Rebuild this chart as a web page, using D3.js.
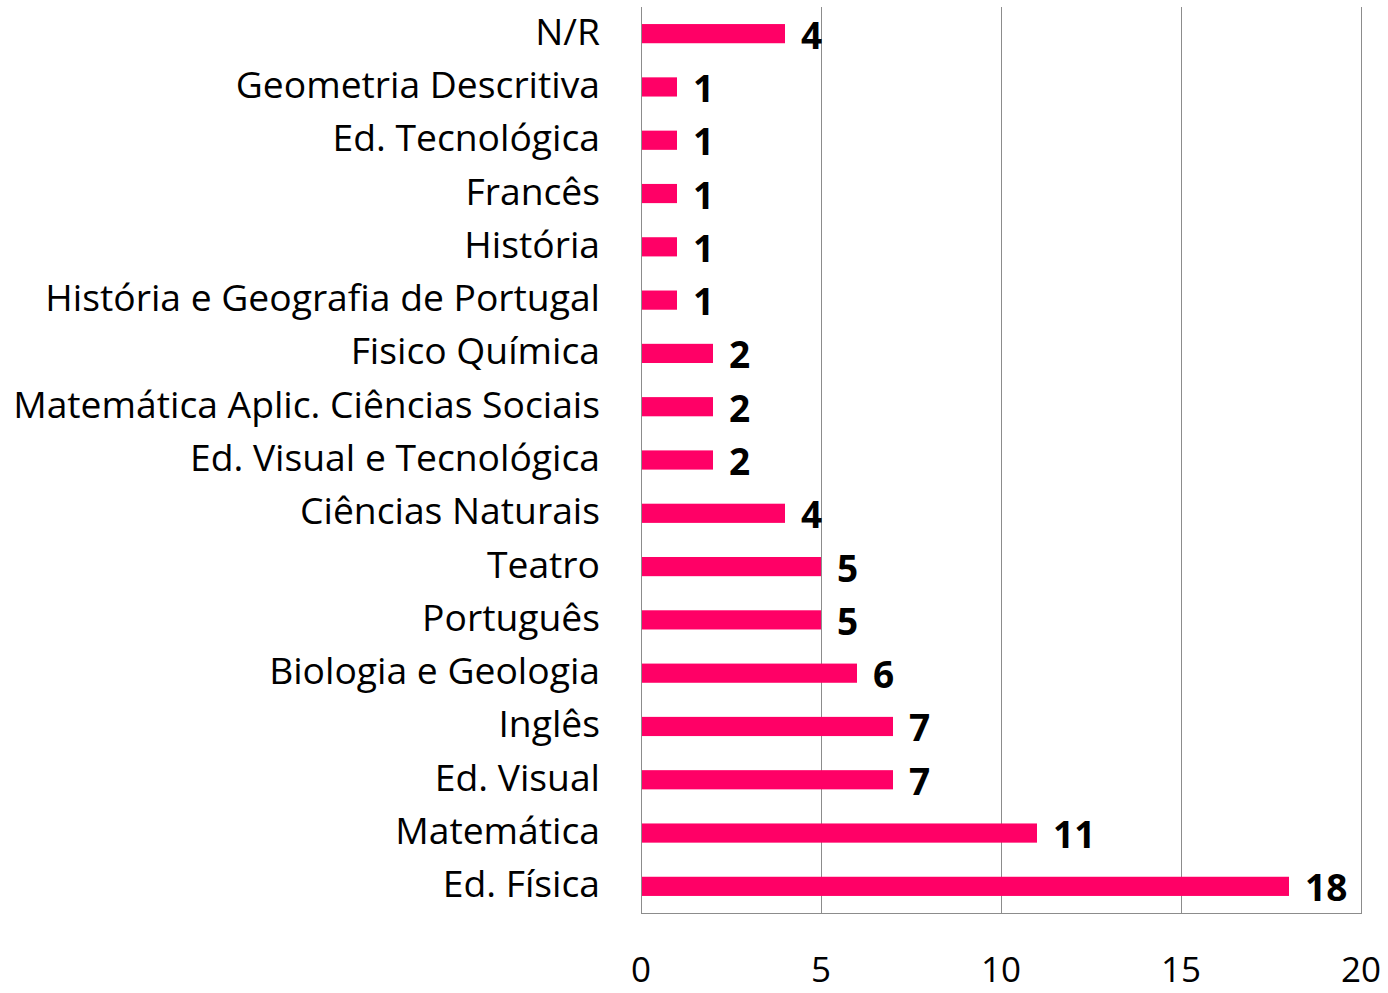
<!DOCTYPE html>
<html>
<head>
<meta charset="utf-8">
<script src="https://cdn.jsdelivr.net/npm/d3@7"></script>
<style>
  body { margin: 0; background: #fff; }
  text { font-family: "Open Sans", Lato, sans-serif; fill: #000; }
</style>
</head>
<body>
<script>
// categories top to bottom
const categories = ["N/R", "Geometria Descritiva", "Ed. Tecnológica", "Francês", "História",
  "História e Geografia de Portugal", "Fisico Química", "Matemática Aplic. Ciências Sociais",
  "Ed. Visual e Tecnológica", "Ciências Naturais", "Teatro", "Português", "Biologia e Geologia",
  "Inglês", "Ed. Visual", "Matemática", "Ed. Física"];
const values = [4, 1, 1, 1, 1, 1, 2, 2, 2, 4, 5, 5, 6, 7, 7, 11, 18];
const ticks = [0, 5, 10, 15, 20];

const width = 1388, height = 993;
const margin = {top: 7, right: 27, bottom: 80, left: 641};

const svg = d3.select("body").append("svg")
  .attr("width", width)
  .attr("height", height);

const x = d3.scaleLinear()
  .domain([0, 20])
  .range([margin.left, width - margin.right]);

const y = d3.scaleBand()
  .domain(categories)
  .range([margin.top, height - margin.bottom])
  .paddingInner(0.64)
  .paddingOuter(0.32);

const plotBottom = height - margin.bottom;

// vertical gridlines
svg.append("g")
  .selectAll("line")
  .data(ticks)
  .enter().append("line")
  .attr("x1", d => x(d) + 0.5)
  .attr("x2", d => x(d) + 0.5)
  .attr("y1", margin.top)
  .attr("y2", plotBottom)
  .attr("stroke", "#8c8c8c")
  .attr("stroke-width", 1);

// bottom border
svg.append("line")
  .attr("x1", x(0)).attr("x2", x(20) + 1)
  .attr("y1", plotBottom + 0.5).attr("y2", plotBottom + 0.5)
  .attr("stroke", "#8c8c8c");

// bars
svg.append("g")
  .selectAll("rect")
  .data(values)
  .enter().append("rect")
  .attr("x", x(0) + 1)
  .attr("y", (d, i) => y(categories[i]))
  .attr("width", d => x(d) - x(0) - 1)
  .attr("height", y.bandwidth())
  .attr("fill", "#ff0066");

// value labels
svg.append("g")
  .selectAll("text")
  .data(values)
  .enter().append("text")
  .attr("x", d => x(d) + 16)
  .attr("y", (d, i) => y(categories[i]) + y.bandwidth() / 2 + 15)
  .attr("font-size", 37)
  .attr("font-weight", "bold")
  .text(d => d);

// category labels
const catLabels = svg.append("g")
  .selectAll("text")
  .data(categories)
  .enter().append("text")
  .attr("x", 600)
  .attr("y", d => y(d) + y.bandwidth() / 2 + 11)
  .attr("text-anchor", "end")
  .attr("font-size", 32)
  .text(d => d);

// shrink/grow font so the longest label spans like the original
let longest = 0;
catLabels.each(function() { longest = Math.max(longest, this.getComputedTextLength()); });
catLabels.attr("font-size", 32 * 587 / longest);

// x tick labels
svg.append("g")
  .selectAll("text")
  .data(ticks)
  .enter().append("text")
  .attr("x", d => x(d))
  .attr("y", 982)
  .attr("text-anchor", "middle")
  .attr("font-size", 35)
  .text(d => d);
</script>
</body>
</html>
